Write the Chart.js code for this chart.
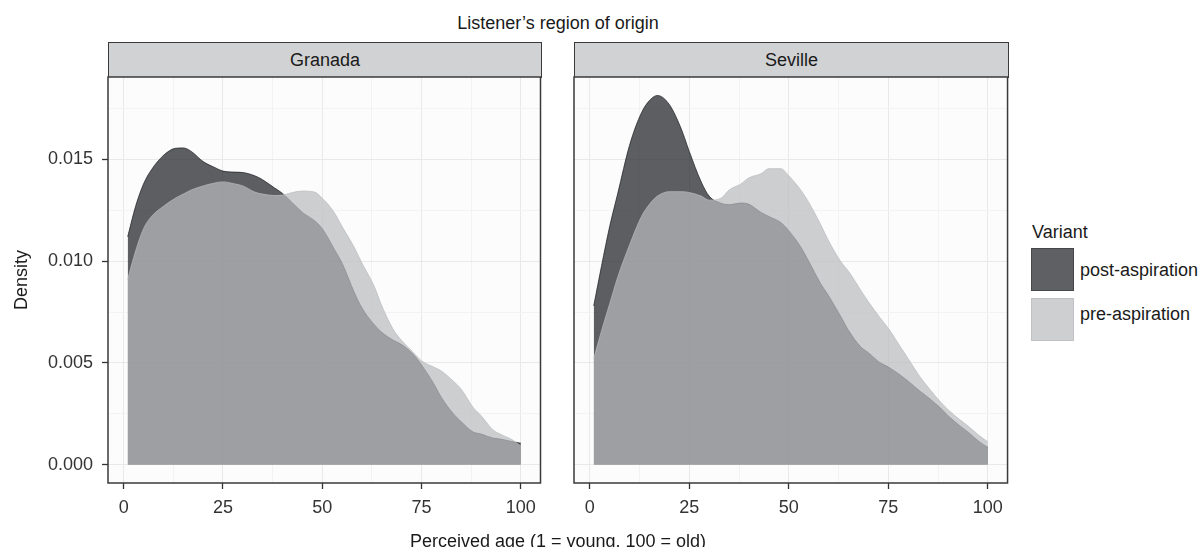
<!DOCTYPE html>
<html>
<head>
<meta charset="utf-8">
<script src="https://cdn.jsdelivr.net/npm/chart.js@4.4.1/dist/chart.umd.min.js"></script>
<style>
    html, body { margin: 0; padding: 0; background: #fff; }
    body {
        width: 1203px; height: 547px; position: relative; overflow: hidden;
        font-family: "Liberation Sans", Arial, Helvetica, sans-serif; color: #1a1a1a;
    }
    .txt { position: absolute; font-size: 18px; line-height: 18px; white-space: nowrap; }
    .center { transform: translateX(-50%); }
    .strip {
        position: absolute; box-sizing: border-box; background: #d1d2d4;
        border: 1.5px solid #3a3a3a; font-size: 18px; display: flex;
        align-items: center; justify-content: center; color: #1a1a1a;
    }
    .key { position: absolute; box-sizing: border-box; width: 43px; height: 43px; }
    canvas { position: absolute; }
</style>
</head>
<body>

<div class="txt center" style="left:558px; top:14px;">Listener’s region of origin</div>
<div class="strip" style="left:108px; top:42px; width:434px; height:36px;">Granada</div>
<div class="strip" style="left:574px; top:42px; width:435px; height:36px;">Seville</div>

<canvas id="granada" width="544" height="490" style="left:0; top:57px;"></canvas>
<canvas id="seville" width="441" height="490" style="left:570px; top:57px;"></canvas>

<div class="txt" style="left:21px; top:280px; transform: translate(-50%, -50%) rotate(-90deg);">Density</div>
<div class="txt center" style="left:558px; top:532px;">Perceived age (1 = young, 100 = old)</div>

<div class="txt" style="left:1032px; top:223px;">Variant</div>
<div class="key" style="left:1031px; top:248px; background:rgb(95,96,99); border:1px solid rgb(70,71,74);"></div>
<div class="txt" style="left:1080px; top:261px;">post-aspiration</div>
<div class="key" style="left:1031px; top:298px; background:rgb(206,207,209); border:1px solid rgb(192,193,196);"></div>
<div class="txt" style="left:1080px; top:305px;">pre-aspiration</div>

<script>
// perceived age grid (1 = young, 100 = old)
const ages = [1, 3, 5, 7, 10, 13, 15, 17, 20, 23, 25, 28, 30, 33, 35, 38, 40, 43, 45, 48, 50,
              53, 55, 58, 60, 63, 65, 68, 70, 73, 75, 78, 80, 83, 85, 88, 90, 93, 95, 98, 100];

// density estimates
const granadaPost = [0.0112, 0.0127, 0.0138, 0.0145, 0.0152, 0.01555, 0.01557, 0.0154, 0.0149, 0.0146, 0.01443,
                     0.01438, 0.01436, 0.0142, 0.0140, 0.0136, 0.01333, 0.01277, 0.0124, 0.0120, 0.0116,
                     0.0106, 0.0099, 0.0085, 0.0077, 0.0069, 0.0065, 0.0061, 0.0059, 0.0054, 0.0049,
                     0.0040, 0.0033, 0.0025, 0.0021, 0.0016, 0.0015, 0.0013, 0.00125, 0.00112, 0.00105];
const granadaPre  = [0.0091, 0.0105, 0.0116, 0.0122, 0.0127, 0.0131, 0.0133, 0.0135, 0.0137, 0.01385, 0.0139,
                     0.0138, 0.0137, 0.0134, 0.0133, 0.01323, 0.01325, 0.0134, 0.01345, 0.0134, 0.0131,
                     0.0124, 0.0117, 0.0107, 0.0099, 0.0088, 0.0078, 0.0066, 0.0061, 0.0055, 0.0051,
                     0.0048, 0.0046, 0.0041, 0.0037, 0.0028, 0.0024, 0.0017, 0.00148, 0.0012, 0.0009];
const sevillePost = [0.0078, 0.0098, 0.0117, 0.0133, 0.0157, 0.0173, 0.0179, 0.01815, 0.0177, 0.0165, 0.0154,
                     0.0139, 0.0132, 0.01285, 0.01278, 0.01286, 0.0128, 0.0124, 0.0122, 0.0119, 0.0115,
                     0.0107, 0.0100, 0.0089, 0.0083, 0.0073, 0.0066, 0.0058, 0.0055, 0.0050, 0.0048,
                     0.0044, 0.0041, 0.0036, 0.0033, 0.0028, 0.0024, 0.0019, 0.0016, 0.0011, 0.00085];
const sevillePre  = [0.0052, 0.0066, 0.0079, 0.0092, 0.0108, 0.0122, 0.0128, 0.0132, 0.01342, 0.01342, 0.01338,
                     0.0132, 0.0130, 0.0131, 0.0135, 0.0138, 0.0141, 0.0143, 0.01455, 0.01455, 0.0142,
                     0.0135, 0.0129, 0.0118, 0.0110, 0.0100, 0.0095, 0.0086, 0.0080, 0.0072, 0.0067,
                     0.0058, 0.0052, 0.0043, 0.0038, 0.0031, 0.0027, 0.0022, 0.0019, 0.0014, 0.00112];

const variants = ['post-aspiration', 'pre-aspiration'];
const xTicks = [0, 25, 50, 75, 100];
const yTicks = [0, 0.005, 0.010, 0.015];

const FONT = { family: '"Liberation Sans", Arial, Helvetica, sans-serif', size: 18 };
const postFill = 'rgba(26,27,31,0.7)';
const preFill = 'rgba(185,186,189,0.7)';

// ggplot-like expansion of 5% on each side
const xMin = 1 - 0.05 * 99, xMax = 100 + 0.05 * 99;
const dMax = Math.max(...granadaPost, ...granadaPre, ...sevillePost, ...sevillePre);
const yMin = -0.05 * dMax, yMax = 1.05 * dMax;

// major ticks plus minor lines halfway between them
function withMinor(major) {
    const step = major[1] - major[0];
    const out = [];
    major.forEach(v => { out.push(v); out.push(v + step / 2); });
    return out;
}
const isMajor = (v, major) => major.some(m => Math.abs(m - v) < 1e-9);

const panelBox = {
    id: 'panelBox',
    beforeDraw(chart) {
        const { ctx, chartArea: a } = chart;
        ctx.save();
        ctx.fillStyle = '#fcfcfc';
        ctx.fillRect(a.left, a.top, a.width, a.height);
        ctx.restore();
    },
    afterDraw(chart) {
        const { ctx, chartArea: a } = chart;
        ctx.save();
        ctx.strokeStyle = '#3a3a3a';
        ctx.lineWidth = 1.5;
        ctx.strokeRect(a.left, a.top, a.width, a.height);
        ctx.restore();
    }
};

function makePanel(id, post, pre, showY) {
    const pts = arr => ages.map((a, i) => ({ x: a, y: arr[i] }));
    return new Chart(document.getElementById(id), {
        type: 'line',
        data: {
            datasets: [
                {
                    label: variants[0], data: pts(post), order: 2, fill: 'origin',
                    backgroundColor: postFill, borderColor: postFill, borderWidth: 1,
                    pointRadius: 0, cubicInterpolationMode: 'monotone'
                },
                {
                    label: variants[1], data: pts(pre), order: 1, fill: 'origin',
                    backgroundColor: preFill, borderColor: preFill, borderWidth: 1,
                    pointRadius: 0, cubicInterpolationMode: 'monotone'
                }
            ]
        },
        options: {
            responsive: false,
            animation: false,
            devicePixelRatio: 1,
            // top padding also covers the y-label overflow Chart.js reserves (~19.8px)
            layout: { padding: { left: showY ? 0 : 4, right: 3, top: 20, bottom: 0 } },
            plugins: { legend: { display: false }, tooltip: { enabled: false } },
            scales: {
                x: {
                    type: 'linear', min: xMin, max: xMax,
                    afterBuildTicks: s => { s.ticks = withMinor(xTicks).filter(v => v <= 100).map(v => ({ value: v })); },
                    afterFit: s => { s.height = 64; },
                    ticks: {
                        autoSkip: false, maxRotation: 0, padding: 8, color: '#333', font: FONT,
                        callback: v => isMajor(v, xTicks) ? String(v) : ''
                    },
                    grid: {
                        color: c => isMajor(c.tick.value, xTicks) ? '#e9e9e9' : '#f3f3f3',
                        tickColor: c => isMajor(c.tick.value, xTicks) ? '#333' : 'rgba(0,0,0,0)',
                        tickLength: 6, tickWidth: 1.3, lineWidth: 1
                    },
                    border: { display: false }
                },
                y: {
                    type: 'linear', min: yMin, max: yMax,
                    afterBuildTicks: s => { s.ticks = withMinor(yTicks).map(v => ({ value: v })); },
                    afterFit: s => { s.width = showY ? 108 : 0; },
                    ticks: {
                        display: showY, padding: 9, color: '#333', font: FONT,
                        callback: v => isMajor(v, yTicks) ? v.toFixed(3) : ''
                    },
                    grid: {
                        color: c => isMajor(c.tick.value, yTicks) ? '#e9e9e9' : '#f3f3f3',
                        tickColor: c => (showY && isMajor(c.tick.value, yTicks)) ? '#333' : 'rgba(0,0,0,0)',
                        drawTicks: showY, tickLength: 6, tickWidth: 1.3, lineWidth: 1
                    },
                    border: { display: false }
                }
            }
        },
        plugins: [panelBox]
    });
}

makePanel('granada', granadaPost, granadaPre, true);
makePanel('seville', sevillePost, sevillePre, false);
</script>
</body>
</html>
